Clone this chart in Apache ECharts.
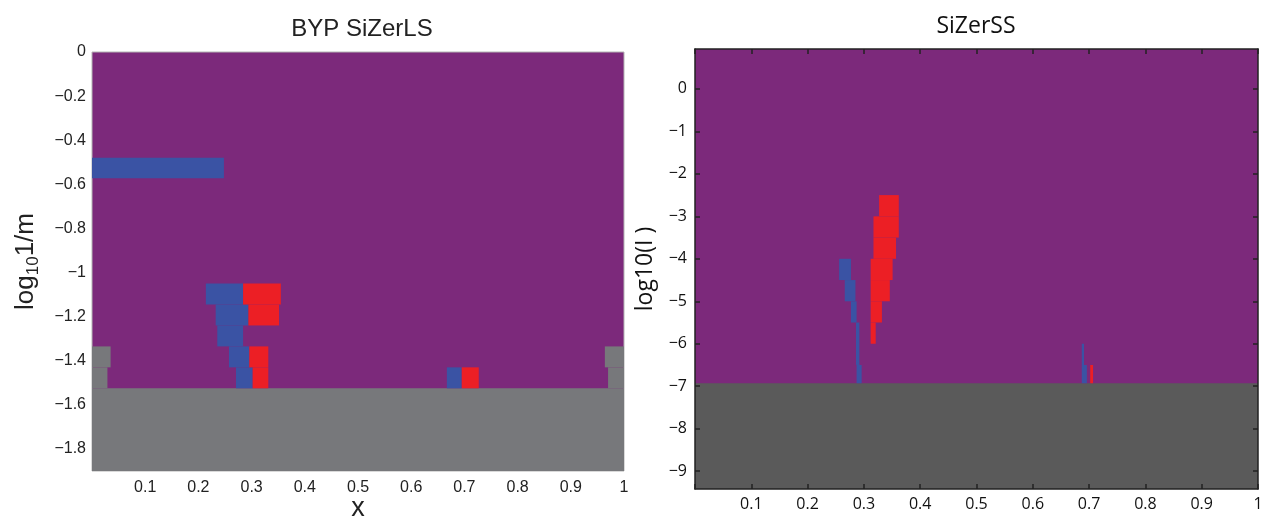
<!DOCTYPE html>
<html>
<head>
<meta charset="utf-8">
<script src="https://cdn.jsdelivr.net/npm/echarts@6/dist/echarts.min.js"></script>
<style>
  html, body { margin: 0; background: #fff; }
  #chart { width: 1264px; height: 517px; }
</style>
</head>
<body>
<div id="chart"></div>
<script>
// tick values
const xTicks = [0.1, 0.2, 0.3, 0.4, 0.5, 0.6, 0.7, 0.8, 0.9, 1];
const lsYTicks = [0, -0.2, -0.4, -0.6, -0.8, -1, -1.2, -1.4, -1.6, -1.8];
const ssYTicks = [0, -1, -2, -3, -4, -5, -6, -7, -8, -9];

// rectangles: [x0, x1, yLow, yHigh]
// BYP SiZerLS
const lsGray = [
  [0, 1, -1.9, -1.525],
  [0, 0.035, -1.43, -1.335],
  [0, 0.029, -1.525, -1.43],
  [0.964, 1, -1.43, -1.335],
  [0.970, 1, -1.525, -1.43]
];
const lsBlue = [
  [0, 0.248, -0.573, -0.48],
  [0.214, 0.284, -1.145, -1.05],
  [0.2325, 0.294, -1.24, -1.145],
  [0.2355, 0.284, -1.335, -1.24],
  [0.2575, 0.2957, -1.43, -1.335],
  [0.2707, 0.302, -1.525, -1.43],
  [0.667, 0.695, -1.525, -1.43]
];
const lsRed = [
  [0.284, 0.355, -1.145, -1.05],
  [0.294, 0.3515, -1.24, -1.145],
  [0.2957, 0.3314, -1.43, -1.335],
  [0.302, 0.3314, -1.525, -1.43],
  [0.695, 0.727, -1.525, -1.43]
];

// SiZerSS
const ssGray = [
  [0, 1, -9.42, -6.93]
];
const ssBlue = [
  [0.256, 0.277, -4.5, -4],
  [0.266, 0.285, -5, -4.5],
  [0.277, 0.287, -5.5, -5],
  [0.286, 0.292, -6.5, -5.5],
  [0.287, 0.296, -6.93, -6.5],
  [0.687, 0.691, -6.5, -6],
  [0.687, 0.696, -6.93, -6.5]
];
const ssRed = [
  [0.327, 0.362, -3, -2.5],
  [0.317, 0.362, -3.5, -3],
  [0.317, 0.357, -4, -3.5],
  [0.312, 0.351, -4.5, -4],
  [0.312, 0.346, -5, -4.5],
  [0.312, 0.332, -5.5, -5],
  [0.312, 0.321, -6, -5.5],
  [0.702, 0.707, -6.93, -6.5]
];

const PURPLE = '#7c297b';
const BLUE = '#3a53a4';
const RED = '#ec1f25';

function minus(v) {
  return String(v).replace('-', '\u2212');
}

function renderRect(params, api) {
  const p0 = api.coord([api.value(0), api.value(3)]);
  const p1 = api.coord([api.value(1), api.value(2)]);
  return {
    type: 'rect',
    shape: { x: p0[0], y: p0[1], width: p1[0] - p0[0], height: p1[1] - p0[1] },
    style: { fill: api.visual('color') }
  };
}

function rectSeries(data, color, idx) {
  return {
    type: 'custom',
    xAxisIndex: idx,
    yAxisIndex: idx,
    renderItem: renderRect,
    clip: true,
    itemStyle: { color: color },
    encode: { x: [0, 1], y: [2, 3] },
    data: data,
    silent: true
  };
}

const chart = echarts.init(document.getElementById('chart'));

const lsFont = { fontFamily: 'Liberation Sans', color: '#222' };
const ssFont = { fontFamily: 'Open Sans', color: '#111' };
const boxLine = { show: true, onZero: false, lineStyle: { color: '#222', width: 1.5 } };
const boxTick = { show: true, inside: true, length: 5, lineStyle: { color: '#222', width: 1.5 } };

const option = {
  animation: false,
  title: [
    {
      text: 'BYP SiZerLS', left: 357, top: 12, textAlign: 'center',
      textStyle: { fontFamily: 'Liberation Sans', fontWeight: 'normal', fontSize: 24, color: '#222' }
    },
    {
      text: 'SiZerSS', left: 971, top: 10, textAlign: 'center',
      textStyle: { fontFamily: 'Open Sans', fontWeight: 'normal', fontSize: 23, color: '#111' }
    }
  ],
  grid: [
    {
      left: 92, top: 52, width: 532, height: 419, containLabel: false, outerBoundsMode: 'none',
      show: true, backgroundColor: PURPLE, borderColor: '#b4b4b4', borderWidth: 1
    },
    {
      left: 695, top: 49, width: 563, height: 440, containLabel: false, outerBoundsMode: 'none',
      show: true, backgroundColor: PURPLE, borderWidth: 0
    }
  ],
  xAxis: [
    {
      gridIndex: 0, type: 'value', min: 0, max: 1, interval: 0.1,
      axisLine: { show: false }, axisTick: { show: false }, splitLine: { show: false },
      axisLabel: { ...lsFont, fontSize: 16, margin: 9, formatter: v => (v === 0 ? '' : String(v)) },
      name: 'x', nameLocation: 'middle', nameGap: 24, nameMoveOverlap: false,
      nameTextStyle: { ...lsFont, fontSize: 27 }
    },
    {
      gridIndex: 1, type: 'value', min: 0, max: 1, interval: 0.1, z: 10,
      axisLine: boxLine, axisTick: boxTick, splitLine: { show: false },
      axisLabel: { ...ssFont, fontSize: 16, margin: 7, formatter: v => (v === 0 ? '' : String(v)) }
    },
    {
      gridIndex: 1, type: 'value', min: 0, max: 1, interval: 0.1, position: 'top', z: 10,
      axisLine: boxLine, axisTick: boxTick, splitLine: { show: false }, axisLabel: { show: false }
    }
  ],
  yAxis: [
    {
      gridIndex: 0, type: 'value', min: -1.9, max: 0,
      axisLine: { show: false }, axisTick: { show: false }, splitLine: { show: false },
      axisLabel: { ...lsFont, fontSize: 16, margin: 6, customValues: lsYTicks, formatter: minus },
      name: '{a|log}{s|10}{a|1/m}', nameLocation: 'middle', nameGap: 50, nameMoveOverlap: false,
      nameTextStyle: {
        rich: {
          a: { fontFamily: 'Liberation Sans', fontSize: 26, color: '#222' },
          s: { fontFamily: 'Liberation Sans', fontSize: 17, color: '#222', verticalAlign: 'bottom', padding: [15, 0, 0, 0] }
        }
      }
    },
    {
      gridIndex: 1, type: 'value', min: -9.42, max: 0.94, z: 10,
      axisLine: boxLine, axisTick: { ...boxTick, customValues: ssYTicks }, splitLine: { show: false },
      axisLabel: { ...ssFont, fontSize: 16, margin: 8, customValues: ssYTicks, formatter: minus },
      name: 'log10(I )', nameLocation: 'middle', nameGap: 38, nameMoveOverlap: false,
      nameTextStyle: { fontFamily: 'Open Sans', fontSize: 23, color: '#111' }
    },
    {
      gridIndex: 1, type: 'value', min: -9.42, max: 0.94, position: 'right', z: 10,
      axisLine: boxLine, axisTick: { ...boxTick, customValues: ssYTicks }, splitLine: { show: false },
      axisLabel: { show: false }
    }
  ],
  series: [
    rectSeries(lsGray, '#77787b', 0),
    rectSeries(lsBlue, BLUE, 0),
    rectSeries(lsRed, RED, 0),
    rectSeries(ssGray, '#5a5a5a', 1),
    rectSeries(ssBlue, BLUE, 1),
    rectSeries(ssRed, RED, 1)
  ]
};

chart.setOption(option);
</script>
</body>
</html>
